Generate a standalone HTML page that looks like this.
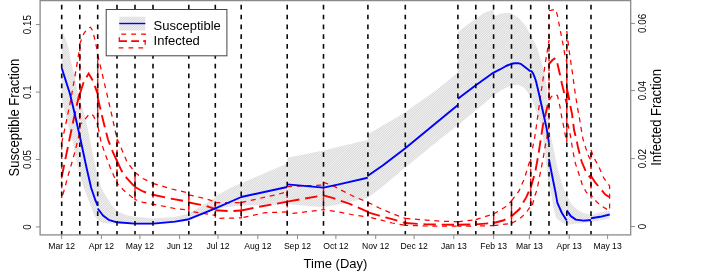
<!DOCTYPE html><html><head><meta charset="utf-8"><title>chart</title><style>html,body{margin:0;padding:0;background:#fff}svg{display:block;will-change:transform}text{font-family:"Liberation Sans",sans-serif;fill:#000}</style></head><body>
<svg width="706" height="275" viewBox="0 0 706 275">
<defs><pattern id="h" width="1.68" height="1.68" patternUnits="userSpaceOnUse" patternTransform="rotate(-45)"><rect width="1.68" height="1.68" fill="#f3f3f3"/><rect width="1.68" height="0.75" fill="#d4d4d4"/></pattern></defs>
<rect width="706" height="275" fill="#fff"/>
<g fill="url(#h)">
<polygon points="61.8,31.5 63.0,33.0 66.6,41.6 69.1,50.5 70.8,60.0 75.3,80.0 78.0,94.0 79.8,101.0 79.8,176.0 77.9,168.0 75.0,154.0 72.3,140.0 66.0,117.0 61.8,99.0"/>
<polygon points="79.8,101.0 85.5,118.0 90.0,140.0 95.8,168.0 97.7,174.0 97.7,220.5 94.3,215.3 89.2,201.7 84.0,188.0 79.8,176.0"/>
<polygon points="97.7,174.0 101.2,188.0 106.3,196.5 111.4,205.0 117.0,211.0 117.0,223.6 106.3,223.6 99.4,221.5 97.7,220.5"/>
<polygon points="117.0,211.0 126.8,215.3 135.0,216.7 135.0,224.8 117.0,223.6"/>
<polygon points="135.0,216.7 153.0,218.4 153.0,224.8 135.0,224.8"/>
<polygon points="153.0,218.4 174.7,217.0 188.8,213.6 188.8,220.4 175.0,222.8 153.0,224.8"/>
<polygon points="188.8,213.6 215.3,198.0 215.3,209.5 188.8,220.4"/>
<polygon points="215.3,196.6 230.5,187.8 241.3,183.2 241.3,205.6 224.0,207.5 215.3,210.0"/>
<polygon points="241.3,183.2 249.0,180.0 287.2,163.5 287.2,204.3 268.8,205.0 241.3,205.6"/>
<polygon points="287.2,157.8 323.5,150.4 323.5,207.3 302.8,205.4 287.2,204.0"/>
<polygon points="323.5,150.4 367.9,139.8 367.9,197.8 341.0,204.1 323.5,207.3"/>
<polygon points="367.9,134.3 390.0,121.3 405.3,112.3 405.3,167.6 379.3,189.3 367.9,197.5"/>
<polygon points="405.3,112.3 414.8,105.3 436.5,90.0 457.9,72.5 457.9,125.2 439.1,140.0 428.9,148.2 415.2,159.5 405.3,167.6"/>
<polygon points="457.9,31.9 466.6,25.5 475.8,18.5 475.8,110.3 457.9,125.2"/>
<polygon points="475.8,18.5 484.4,12.8 493.6,9.6 493.6,95.3 483.2,104.2 475.8,110.3"/>
<polygon points="493.6,16.6 501.0,13.4 510.0,12.8 511.5,13.4 511.5,85.1 503.6,88.9 493.6,95.3"/>
<polygon points="511.5,13.4 518.9,17.9 525.3,25.5 530.7,34.4 530.7,97.0 529.1,94.0 524.0,87.7 518.9,84.8 511.5,85.1"/>
<polygon points="530.7,34.4 537.7,49.0 542.1,65.0 545.3,76.0 547.2,91.3 548.3,108.0 549.0,126.0 549.0,187.0 548.3,184.0 546.3,166.0 544.3,148.0 542.5,134.0 541.5,126.0 538.8,118.5 535.5,109.3 532.9,101.7 530.7,97.0"/>
<polygon points="549.0,126.0 551.0,136.2 553.6,149.0 555.5,158.0 557.5,168.0 560.0,177.0 562.5,185.5 566.8,196.0 566.8,225.0 561.9,222.5 556.1,218.0 553.0,206.6 551.8,197.0 550.4,190.5 549.0,187.0"/>
<polygon points="566.8,196.0 572.1,205.0 578.5,210.6 583.6,213.0 591.0,214.9 591.0,221.9 583.6,223.2 574.6,223.8 566.8,225.0"/>
<polygon points="591.0,214.9 600.2,212.3 609.7,210.4 609.7,218.7 600.2,220.6 591.0,221.9"/>
</g>
<g fill="none" stroke="#ff0000" stroke-width="1.25" stroke-dasharray="5 4.7">
<polygon points="61.7,143.0 66.0,123.0 71.2,97.4 76.0,70.0 79.8,47.0 79.8,131.0 77.9,140.0 75.0,151.5 70.9,166.0 67.9,176.2 64.8,188.0 61.7,198.5"/>
<polygon points="79.8,44.1 82.0,37.5 84.0,33.3 87.5,28.5 90.4,27.2 92.0,29.5 93.5,34.0 97.7,52.4 97.7,124.8 93.5,116.0 90.9,113.7 88.0,115.5 84.9,119.6 79.8,125.0"/>
<polygon points="97.7,55.0 102.0,73.0 106.3,91.4 112.0,116.0 117.0,139.0 117.0,183.0 115.3,179.3 110.2,167.5 106.3,157.0 101.2,142.7 97.7,125.0"/>
<polygon points="117.0,139.0 119.0,142.7 126.8,161.5 135.0,172.6 135.0,199.5 127.5,193.6 123.4,190.0 117.0,183.0"/>
<polygon points="135.0,172.6 143.0,178.5 153.0,183.4 153.0,204.2 143.0,202.3 135.0,199.5"/>
<polygon points="153.0,183.4 172.0,189.0 188.8,193.0 188.8,210.2 174.7,208.5 153.0,204.2"/>
<polygon points="188.8,194.8 205.0,198.6 215.3,201.8 215.3,215.4 188.8,211.0"/>
<polygon points="215.3,202.6 241.3,202.6 241.3,217.9 215.3,218.4"/>
<polygon points="241.3,202.6 258.6,198.6 276.4,194.8 287.2,191.6 287.2,211.9 265.0,212.7 241.3,217.9"/>
<polygon points="287.2,186.6 323.5,185.0 323.5,209.7 287.2,214.1"/>
<polygon points="323.5,182.3 333.4,185.9 341.0,190.1 353.8,196.5 367.9,202.3 367.9,216.9 353.8,215.0 341.0,212.4 323.5,209.5"/>
<polygon points="367.9,202.3 379.3,208.0 392.1,213.6 405.3,218.4 405.3,225.3 392.1,223.0 379.3,219.6 367.9,216.9"/>
<polygon points="405.3,218.4 426.3,220.1 443.4,221.3 457.9,221.8 457.9,226.1 426.3,226.0 405.3,225.3"/>
<polygon points="457.9,221.8 475.8,219.6 475.8,226.0 457.9,226.1"/>
<polygon points="475.8,219.6 493.6,214.0 493.6,225.6 475.8,226.0"/>
<polygon points="493.6,214.0 505.6,206.8 511.5,200.8 511.5,223.4 493.6,225.6"/>
<polygon points="511.5,200.8 519.3,190.5 524.4,178.5 527.0,170.0 530.7,158.0 530.7,205.9 526.2,212.7 520.0,218.5 511.5,223.4"/>
<polygon points="530.7,158.0 531.9,151.5 534.5,138.8 536.4,126.0 540.8,94.0 542.8,81.0 545.3,63.0 547.2,51.7 549.0,40.0 549.0,126.0 546.6,138.8 544.7,149.0 542.8,160.4 540.2,173.3 537.0,189.9 535.1,195.1 531.9,206.6 530.7,207.5"/>
<polygon points="549.0,10.5 551.0,10.3 555.5,9.2 557.4,15.3 560.2,30.0 563.2,45.3 565.0,55.5 566.8,62.0 566.8,142.0 565.7,137.5 563.8,127.2 561.9,118.2 560.0,106.8 557.4,95.5 554.5,94.3 551.5,96.5 549.0,100.6"/>
<polygon points="566.8,31.0 568.9,49.0 570.8,62.0 572.7,74.8 574.6,89.0 575.9,97.8 577.8,109.3 579.7,119.5 581.0,127.8 582.9,138.8 586.1,149.0 588.7,156.6 591.0,160.4 591.0,197.4 586.1,191.8 582.3,184.8 579.1,174.6 575.3,163.1 574.0,156.6 572.1,146.4 570.8,137.5 568.3,126.0 566.8,119.0"/>
<polygon points="591.0,150.0 593.8,157.5 598.9,166.9 604.0,178.4 609.6,186.0 609.6,210.4 607.8,209.8 601.4,206.0 596.3,201.5 591.0,194.8"/>
</g>
<g fill="none" stroke="#ff0000" stroke-width="1.9" stroke-dasharray="12.4 5.8">
<polyline points="61.7,177.0 65.0,161.0 69.3,140.0 75.0,113.0 79.8,92.0"/>
<polyline points="79.8,94.0 84.0,81.0 88.7,73.5 93.0,81.0 97.7,94.0"/>
<polyline points="97.7,97.4 103.0,120.0 108.0,139.5 113.0,152.5 117.0,161.0"/>
<polyline points="117.0,161.0 121.6,170.8 127.0,178.5 135.0,187.0"/>
<polyline points="135.0,187.0 143.0,191.5 153.0,194.8"/>
<polyline points="153.0,194.8 170.0,198.5 188.8,201.7"/>
<polyline points="188.8,202.5 205.0,205.6 215.3,209.0"/>
<polyline points="215.3,210.2 230.0,211.2 241.3,210.5"/>
<polyline points="241.3,210.5 258.6,206.9 276.4,203.7 287.2,201.6"/>
<polyline points="287.2,201.6 323.5,195.3"/>
<polyline points="323.5,195.3 333.4,198.2 350.5,204.2 367.9,211.9"/>
<polyline points="367.9,212.3 379.3,215.6 392.1,219.2 405.3,223.0"/>
<polyline points="405.3,223.0 426.3,224.4 457.9,224.8"/>
<polyline points="457.9,224.8 475.8,224.4"/>
<polyline points="475.8,224.4 493.6,223.0"/>
<polyline points="493.6,223.0 503.0,220.5 511.5,216.2"/>
<polyline points="511.5,216.2 519.3,209.3 526.2,197.4 530.7,187.1"/>
<polyline points="530.7,188.0 533.8,176.8 535.6,170.0 538.3,155.3 540.8,138.8 542.8,126.0 545.8,113.0 549.0,100.0"/>
<polyline points="549.0,64.0 552.5,60.0 555.5,58.0 557.4,63.5 560.0,74.8 561.9,83.7 564.4,94.0 566.8,104.0" stroke-dashoffset="3.7"/>
<polyline points="566.8,88.0 568.9,97.8 570.8,108.0 572.1,114.4 573.4,124.6 574.0,129.8 576.6,140.0 577.8,146.4 580.4,156.6 581.7,161.8 586.1,172.0 591.0,178.6"/>
<polyline points="591.0,175.9 595.0,182.2 601.4,189.9 605.3,194.5 609.6,197.2"/>
</g>
<g fill="none" stroke="#0000ff" stroke-width="1.9" stroke-linejoin="round">
<polyline points="61.8,68.2 70.0,94.0 75.0,115.0 80.6,140.0 86.6,168.0 91.2,188.0 95.3,200.0 97.6,205.3"/>
<polyline points="97.7,208.5 103.0,215.5 108.7,219.8 117.0,222.3 135.0,223.6 153.0,223.6 175.0,221.6 188.8,219.2 215.4,208.3 241.3,197.0 287.2,187.0"/>
<polyline points="287.2,184.4 323.5,187.6 340.0,184.1 367.7,177.8"/>
<polyline points="367.9,175.8 383.4,165.0 405.3,148.2 457.9,105.0"/>
<polyline points="457.9,98.8 475.8,85.3 493.6,72.6 500.5,69.2 506.0,66.0 511.4,63.8 515.0,63.2 518.1,63.2 521.3,64.2 530.7,71.4"/>
<polyline points="530.7,70.6 532.0,71.8 533.3,73.8 535.3,79.0 536.2,82.0 538.9,93.5 542.8,111.0 546.6,128.4 548.9,142.6"/>
<polyline points="548.9,159.0 552.0,175.0 555.5,192.4 557.4,202.8 561.9,213.0 566.7,220.6"/>
<polyline points="566.7,210.4 570.8,216.1 575.9,219.6 583.6,220.6 591.0,220.0"/>
<polyline points="591.0,218.3 600.2,216.8 609.7,214.5"/>
</g>
<g stroke="#0a0a0a" stroke-width="1.6" stroke-dasharray="4.7 5.13">
<line x1="61.7" y1="4.8" x2="61.7" y2="234.8"/>
<line x1="79.8" y1="4.8" x2="79.8" y2="234.8"/>
<line x1="97.7" y1="4.8" x2="97.7" y2="234.8"/>
<line x1="117.0" y1="4.8" x2="117.0" y2="234.8"/>
<line x1="135.0" y1="4.8" x2="135.0" y2="234.8"/>
<line x1="153.0" y1="4.8" x2="153.0" y2="234.8"/>
<line x1="188.8" y1="4.8" x2="188.8" y2="234.8"/>
<line x1="215.3" y1="4.8" x2="215.3" y2="234.8"/>
<line x1="241.2" y1="4.8" x2="241.2" y2="234.8"/>
<line x1="287.2" y1="4.8" x2="287.2" y2="234.8"/>
<line x1="323.5" y1="4.8" x2="323.5" y2="234.8"/>
<line x1="367.9" y1="4.8" x2="367.9" y2="234.8"/>
<line x1="405.3" y1="4.8" x2="405.3" y2="234.8"/>
<line x1="457.9" y1="4.8" x2="457.9" y2="234.8"/>
<line x1="475.8" y1="4.8" x2="475.8" y2="234.8"/>
<line x1="493.6" y1="4.8" x2="493.6" y2="234.8"/>
<line x1="511.5" y1="4.8" x2="511.5" y2="234.8"/>
<line x1="530.7" y1="4.8" x2="530.7" y2="234.8"/>
<line x1="549.0" y1="4.8" x2="549.0" y2="234.8"/>
<line x1="566.8" y1="4.8" x2="566.8" y2="234.8"/>
<line x1="591.0" y1="4.8" x2="591.0" y2="234.8"/>
</g>
<rect x="40.1" y="0.6" width="590.6" height="234.3" fill="none" stroke="#8a8a8a" stroke-width="1.3"/>
<g stroke="#8a8a8a" stroke-width="1">
<line x1="61.7" y1="234.9" x2="61.7" y2="239.1"/>
<line x1="101.4" y1="234.9" x2="101.4" y2="239.1"/>
<line x1="139.9" y1="234.9" x2="139.9" y2="239.1"/>
<line x1="179.6" y1="234.9" x2="179.6" y2="239.1"/>
<line x1="218.0" y1="234.9" x2="218.0" y2="239.1"/>
<line x1="257.8" y1="234.9" x2="257.8" y2="239.1"/>
<line x1="297.5" y1="234.9" x2="297.5" y2="239.1"/>
<line x1="335.9" y1="234.9" x2="335.9" y2="239.1"/>
<line x1="375.7" y1="234.9" x2="375.7" y2="239.1"/>
<line x1="414.1" y1="234.9" x2="414.1" y2="239.1"/>
<line x1="453.8" y1="234.9" x2="453.8" y2="239.1"/>
<line x1="493.6" y1="234.9" x2="493.6" y2="239.1"/>
<line x1="529.4" y1="234.9" x2="529.4" y2="239.1"/>
<line x1="569.2" y1="234.9" x2="569.2" y2="239.1"/>
<line x1="607.6" y1="234.9" x2="607.6" y2="239.1"/>
<line x1="35.9" y1="226.9" x2="40.1" y2="226.9"/>
<line x1="35.9" y1="159.5" x2="40.1" y2="159.5"/>
<line x1="35.9" y1="92.1" x2="40.1" y2="92.1"/>
<line x1="35.9" y1="24.6" x2="40.1" y2="24.6"/>
<line x1="630.7" y1="226.5" x2="634.9" y2="226.5"/>
<line x1="630.7" y1="158.6" x2="634.9" y2="158.6"/>
<line x1="630.7" y1="90.6" x2="634.9" y2="90.6"/>
<line x1="630.7" y1="23.4" x2="634.9" y2="23.4"/>
</g>
<text x="61.7" y="248.8" font-size="8.6" text-anchor="middle">Mar 12</text>
<text x="101.4" y="248.8" font-size="8.6" text-anchor="middle">Apr 12</text>
<text x="139.9" y="248.8" font-size="8.6" text-anchor="middle">May 12</text>
<text x="179.6" y="248.8" font-size="8.6" text-anchor="middle">Jun 12</text>
<text x="218.0" y="248.8" font-size="8.6" text-anchor="middle">Jul 12</text>
<text x="257.8" y="248.8" font-size="8.6" text-anchor="middle">Aug 12</text>
<text x="297.5" y="248.8" font-size="8.6" text-anchor="middle">Sep 12</text>
<text x="335.9" y="248.8" font-size="8.6" text-anchor="middle">Oct 12</text>
<text x="375.7" y="248.8" font-size="8.6" text-anchor="middle">Nov 12</text>
<text x="414.1" y="248.8" font-size="8.6" text-anchor="middle">Dec 12</text>
<text x="453.8" y="248.8" font-size="8.6" text-anchor="middle">Jan 13</text>
<text x="493.6" y="248.8" font-size="8.6" text-anchor="middle">Feb 13</text>
<text x="529.4" y="248.8" font-size="8.6" text-anchor="middle">Mar 13</text>
<text x="569.2" y="248.8" font-size="8.6" text-anchor="middle">Apr 13</text>
<text x="607.6" y="248.8" font-size="8.6" text-anchor="middle">May 13</text>
<text transform="translate(30.9,226.9) rotate(-90) scale(0.9,1)" font-size="11" text-anchor="middle">0</text>
<text transform="translate(30.9,159.5) rotate(-90) scale(0.9,1)" font-size="11" text-anchor="middle">0.05</text>
<text transform="translate(30.9,92.1) rotate(-90) scale(0.9,1)" font-size="11" text-anchor="middle">0.1</text>
<text transform="translate(30.9,24.6) rotate(-90) scale(0.9,1)" font-size="11" text-anchor="middle">0.15</text>
<text transform="translate(645.5,226.5) rotate(-90) scale(0.9,1)" font-size="11" text-anchor="middle">0</text>
<text transform="translate(645.5,158.6) rotate(-90) scale(0.9,1)" font-size="11" text-anchor="middle">0.02</text>
<text transform="translate(645.5,90.6) rotate(-90) scale(0.9,1)" font-size="11" text-anchor="middle">0.04</text>
<text transform="translate(645.5,23.4) rotate(-90) scale(0.9,1)" font-size="11" text-anchor="middle">0.06</text>
<text x="335.5" y="268.3" font-size="13" text-anchor="middle">Time (Day)</text>
<text transform="translate(18.9,117.6) rotate(-90) scale(0.9,1)" font-size="14.45" text-anchor="middle">Susceptible Fraction</text>
<text transform="translate(660.6,117.4) rotate(-90) scale(0.9,1)" font-size="14.45" text-anchor="middle">Infected Fraction</text>
<rect x="106.2" y="9.5" width="120.7" height="46.3" fill="#fff" stroke="#444" stroke-width="1"/>
<rect x="119.2" y="16.7" width="26.1" height="13.8" fill="url(#h)"/>
<line x1="119.2" y1="23.5" x2="145.3" y2="23.5" stroke="#0000ff" stroke-width="1.4"/>
<path d="M119.3,34.2 H145.2 V47.9 H119.3 Z" fill="none" stroke="#ff0000" stroke-width="1.25" stroke-dasharray="0 2 4.8 3.1"/>
<line x1="119.2" y1="41.1" x2="145.4" y2="41.1" stroke="#ff0000" stroke-width="1.9" stroke-dasharray="7.8 4.2"/>
<text x="153.6" y="30.0" font-size="13">Susceptible</text>
<text x="153.6" y="45.3" font-size="13">Infected</text>
</svg></body></html>
